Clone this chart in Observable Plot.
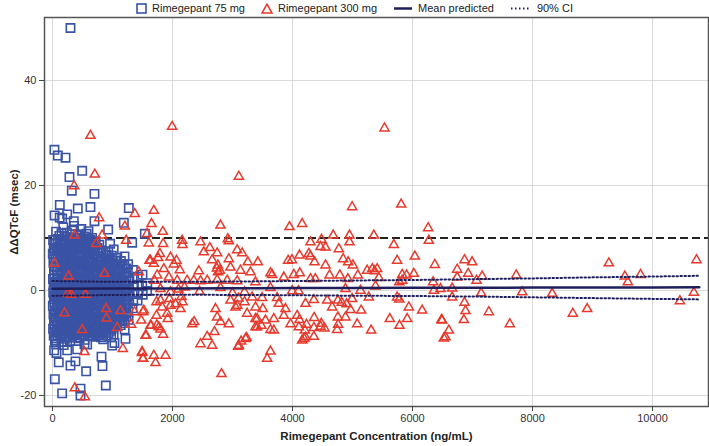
<!DOCTYPE html>
<html>
<head>
<meta charset="utf-8">
<script src="https://cdn.jsdelivr.net/npm/d3@7"></script>
<script src="https://cdn.jsdelivr.net/npm/@observablehq/plot@0.6"></script>
<style>
  html, body { margin: 0; padding: 0; background: #fff; }
  #legend { height: 16px; display: flex; justify-content: center; align-items: center;
    font-family: "Liberation Sans", Arial, sans-serif; font-size: 11px; color: #222; }
  #legend .item { display: flex; align-items: center; margin: 0 8px; }
  #legend svg { margin-right: 5px; }
</style>
</head>
<body>
<div id="legend"></div>
<div id="chart"></div>
<script>
// ---- data ----
const xTicks = [0, 2000, 4000, 6000, 8000, 10000];
const yTicks = [-20, 0, 20, 40];
const refLine = [10];

// Rimegepant 75 mg: [concentration ng/mL, ΔΔQTcF msec]
const rime75 = [
  [300,50.0],[33,26.8],[90,25.7],[217,25.3],[283,21.6],[495,22.8],[322,19.0],[700,18.4],[122,16.3],[422,15.6],
  [633,15.9],[1272,15.7],[35,14.3],[245,14.5],[161,13.7],[355,13.2],[700,13.2],[1189,12.9],[928,11.6],[1539,10.8],
  [1328,9.1],[39,-16.9],[161,-19.6],[467,-20.0],[467,-18.7],[889,-18.1],[561,-15.4],[817,-12.6],[833,-14.4],[300,-14.3],
  [383,-13.5],[105,-13.7],[28,-11.4],[67,-11.9],[245,-11.4],[411,-11.2],[578,-10.3],[245,-9.8],[995,-10.5],[1217,-9.2],
  [39,-9.5],[61,-10.2],[533,-10.2],[978,-8.9],[1033,-10.0],
  [10,9.6],[20,8.1],[5,7.0],[15,5.3],[25,3.9],[8,2.2],[18,1.0],[12,-0.4],[22,-1.7],[6,-2.9],[16,-4.6],[26,-5.8],[10,-7.3],[20,-8.6],
  [30,8.9],[32,7.5],[28,6.1],[34,4.6],[30,3.0],[36,1.6],[29,0.3],[33,-1.0],[31,-2.3],[35,-3.8],[27,-5.2],[32,-6.5],[30,-7.9],
  [60,11.2],[55,9.0],[65,7.7],[58,6.1],[62,4.4],[70,3.0],[52,1.5],[64,0.2],[57,-1.2],[68,-2.6],[60,-3.9],[54,-5.3],[66,-6.8],[61,-8.0],[59,-9.1],
  [90,9.8],[92,8.3],[88,6.8],[94,5.2],[90,3.7],[86,2.2],[93,0.9],[89,-0.5],[91,-1.9],[87,-3.2],[95,-4.5],[90,-6.0],[88,-7.4],[92,-8.7],
  [120,13.9],[115,10.4],[125,8.6],[118,6.9],[122,5.6],[128,3.7],[112,2.4],[124,0.8],[117,-0.6],[121,-2.0],[126,-3.4],[114,-4.9],[123,-6.2],[119,-7.6],[127,-8.4],
  [150,10.9],[152,9.2],[148,7.6],[154,6.0],[150,4.5],[146,2.9],[153,1.4],[149,0.0],[151,-1.5],[147,-2.8],[155,-4.2],[150,-5.7],[148,-7.1],[152,-8.6],[150,-9.8],
  [180,12.0],[176,9.7],[184,8.0],[178,6.3],[186,4.8],[174,3.3],[182,1.9],[188,0.4],[177,-1.0],[183,-2.5],[179,-3.8],[185,-5.5],[181,-6.9],[175,-8.2],[187,-10.4],
  [210,10.2],[212,8.6],[208,7.0],[214,5.5],[210,3.9],[206,2.4],[213,0.8],[209,-0.7],[211,-2.1],[207,-3.5],[215,-5.0],[210,-6.4],[208,-7.8],[212,-9.2],
  [240,11.0],[236,8.9],[244,7.4],[238,5.9],[246,4.1],[234,2.6],[242,1.2],[248,-0.3],[237,-1.6],[243,-3.1],[239,-4.5],[245,-6.0],[241,-7.5],[235,-8.9],
  [270,9.7],[272,8.0],[268,6.4],[274,4.9],[270,3.3],[266,1.7],[273,0.2],[269,-1.2],[271,-2.6],[267,-4.1],[275,-5.5],[270,-7.0],[268,-8.4],
  [300,10.1],[296,8.4],[304,6.6],[298,5.0],[306,3.6],[294,2.0],[302,0.6],[308,-0.9],[297,-2.3],[303,-3.7],[299,-5.1],[305,-6.6],[301,-7.9],[295,-9.6],
  [330,11.4],[332,9.0],[328,7.3],[334,5.7],[330,4.1],[326,2.6],[333,1.1],[329,-0.4],[331,-1.9],[327,-3.3],[335,-4.7],[330,-6.2],[328,-7.5],[332,-8.9],
  [360,12.3],[356,9.3],[364,7.8],[358,6.2],[366,4.5],[354,3.0],[362,1.4],[368,0.1],[357,-1.4],[363,-2.8],[359,-4.2],[365,-5.7],[361,-7.1],[355,-8.5],
  [390,9.9],[392,8.1],[388,6.6],[394,5.0],[390,3.4],[386,1.9],[393,0.4],[389,-1.1],[391,-2.5],[387,-3.9],[395,-5.3],[390,-6.8],[388,-8.1],
  [420,10.7],[416,8.8],[424,7.1],[418,5.4],[426,3.8],[414,2.3],[422,0.9],[428,-0.5],[417,-2.0],[423,-3.3],[419,-4.8],[425,-6.3],[421,-7.7],[415,-9.0],
  [450,10.5],[452,8.7],[448,7.2],[454,5.6],[450,4.0],[446,2.5],[453,1.0],[449,-0.6],[451,-2.0],[447,-3.4],[455,-4.9],[450,-6.3],[448,-7.7],[452,-9.1],
  [480,11.7],[476,9.5],[484,7.9],[478,6.5],[486,4.9],[474,3.4],[482,1.8],[488,0.3],[477,-1.1],[483,-2.7],[479,-4.0],[485,-5.6],[481,-7.0],[475,-8.3],
  [510,9.9],[512,8.0],[508,6.4],[514,4.8],[510,3.2],[506,1.6],[513,0.1],[509,-1.3],[511,-2.8],[507,-4.3],[515,-5.8],[510,-7.2],[508,-8.6],
  [540,10.3],[536,8.2],[544,6.8],[538,5.1],[546,3.5],[534,2.1],[542,0.7],[548,-0.8],[537,-2.2],[543,-3.6],[539,-5.2],[545,-6.5],[541,-7.8],[535,-9.4],
  [570,10.8],[572,8.9],[568,7.3],[574,5.6],[570,4.0],[566,2.4],[573,0.9],[569,-0.6],[571,-2.0],[567,-3.5],[575,-4.9],[570,-6.4],[568,-7.8],
  [600,11.3],[596,9.1],[604,7.5],[598,5.8],[606,4.2],[594,2.7],[602,1.1],[608,-0.2],[597,-1.8],[603,-3.0],[599,-4.6],[605,-6.1],[601,-7.4],[595,-8.7],
  [630,9.6],[632,7.9],[628,6.2],[634,4.6],[630,3.1],[626,1.5],[633,0.0],[629,-1.4],[631,-2.9],[627,-4.3],[635,-5.8],[630,-7.2],[628,-8.5],
  [660,10.0],[656,8.5],[664,6.7],[658,5.2],[666,3.7],[654,2.2],[662,0.5],[668,-1.0],[657,-2.4],[663,-3.9],[659,-5.4],[665,-6.8],[661,-8.1],
  [690,8.8],[692,7.0],[688,5.4],[694,3.8],[690,2.2],[686,0.7],[693,-0.8],[689,-2.2],[691,-3.7],[687,-5.1],[695,-6.6],[690,-8.0],
  [720,9.4],[716,7.6],[724,5.9],[718,4.3],[726,2.9],[714,1.3],[722,-0.1],[728,-1.5],[717,-3.0],[723,-4.4],[719,-5.9],[725,-7.3],[721,-8.8],
  [750,8.1],[752,6.5],[748,4.9],[754,3.5],[750,2.0],[746,0.5],[753,-0.9],[749,-2.4],[751,-3.9],[747,-5.3],[755,-6.8],[750,-8.2],
  [780,8.7],[776,6.4],[784,4.7],[778,3.2],[786,1.7],[774,0.3],[782,-1.2],[788,-2.6],[777,-4.1],[783,-5.6],[779,-7.0],[785,-8.5],
  [810,7.6],[812,5.9],[808,4.3],[814,2.8],[810,1.3],[806,-0.1],[813,-1.6],[809,-3.0],[811,-4.5],[807,-6.0],[815,-7.5],[810,-8.9],
  [840,7.3],[836,5.5],[844,4.0],[838,2.5],[846,1.0],[834,-0.4],[842,-1.9],[848,-3.4],[837,-4.9],[843,-6.4],[839,-7.9],[845,-9.3],
  [870,6.1],[872,4.5],[868,3.0],[874,1.5],[870,0.0],[866,-1.5],[873,-3.0],[869,-4.4],[871,-5.9],[867,-7.4],
  [900,6.8],[896,5.0],[904,3.4],[898,1.9],[906,0.4],[894,-1.1],[902,-2.6],[908,-4.0],[897,-5.5],[903,-7.1],[899,-8.6],
  [930,7.5],[932,5.6],[928,3.9],[934,2.4],[930,0.9],[926,-0.6],[933,-2.1],[929,-3.6],[931,-5.1],[927,-6.6],[935,-8.1],
  [960,8.9],[956,6.0],[964,4.4],[958,2.8],[966,1.3],[954,-0.2],[962,-1.7],[968,-3.2],[957,-4.7],[963,-6.2],[959,-7.7],
  [990,6.6],[992,5.0],[988,3.4],[994,1.8],[990,0.2],[986,-1.3],[993,-2.8],[989,-4.3],[991,-5.8],[987,-7.3],
  [1020,7.8],[1016,5.2],[1024,3.6],[1018,2.0],[1026,0.6],[1014,-0.9],[1022,-2.4],[1028,-3.9],[1017,-5.3],[1023,-6.9],[1019,-8.4],
  [1050,5.7],[1052,4.1],[1048,2.5],[1054,1.0],[1050,-0.5],[1046,-2.0],[1053,-3.5],[1049,-5.0],[1051,-6.5],
  [1080,6.2],[1076,4.6],[1084,3.0],[1078,1.5],[1086,-0.1],[1074,-1.6],[1082,-3.1],[1088,-4.6],[1077,-6.0],
  [1110,5.0],[1112,3.4],[1108,1.9],[1114,0.4],[1110,-1.1],[1106,-2.6],[1113,-4.1],[1109,-5.6],
  [1140,5.6],[1136,4.0],[1144,2.4],[1138,0.9],[1146,-0.7],[1134,-2.2],[1142,-3.7],[1148,-5.1],[1137,-6.6],
  [1170,4.6],[1172,3.0],[1168,1.3],[1174,-0.2],[1170,-1.7],[1166,-3.3],[1173,-4.8],[1169,-6.2],
  [1200,6.5],[1196,4.9],[1204,3.3],[1198,1.6],[1206,0.2],[1194,-1.3],[1202,-2.9],[1208,-4.4],[1197,-5.8],[1203,-7.4],
  [1230,4.2],[1232,2.7],[1228,1.1],[1234,-0.4],[1230,-1.9],[1226,-3.4],[1233,-4.9],
  [1260,5.0],[1256,3.5],[1264,1.8],[1258,0.4],[1266,-1.0],[1254,-2.5],[1262,-4.0],[1268,-5.6],
  [1340,3.9],[1336,2.2],[1344,0.8],[1338,-0.7],[1346,-2.0],[1334,-3.4],
  [1420,2.6],[1416,1.1],[1424,-0.6],[1418,-1.9],
  [1500,3.0],[1496,0.9],[1504,-0.8],
  [1580,1.4],[1576,-0.1]
];

// Rimegepant 300 mg: [concentration ng/mL, ΔΔQTcF msec]
const rime300 = [
  [633,29.5],[705,22.1],[361,19.9],[778,13.8],[828,10.5],[267,2.7],[867,3.2],[311,-0.8],[550,-0.8],[200,-4.3],
  [494,-7.5],[1133,-3.9],[900,-5.3],[1078,-7.1],[1172,-11.1],[533,-11.7],[372,-18.6],[539,-20.3],[367,10.5],[728,8.9],
  [1228,9.5],[1206,12.2],[33,5.1],[256,-0.6],[1439,3.5],[1617,5.7],[1700,1.9],[894,-3.5],[1311,-6.5],[1367,-4.1],
  [1478,-5.7],[1561,-8.6],[1494,-11.9],[1506,-13.0],[1522,-3.8],[1644,-6.7],[1372,14.6],[1578,10.8],
  [1689,15.2],[1650,12.7],[1839,11.2],[2800,12.4],[1606,9.0],[1844,8.9],[2161,9.5],[2167,8.7],[2467,9.2],[2922,9.8],
  [2939,9.4],[2622,8.1],[2522,7.3],[2744,7.1],[3078,7.7],[3161,7.1],[1789,7.0],[1761,6.2],[1633,5.7],[1689,5.1],
  [1967,6.3],[2067,5.7],[2022,5.0],[2661,5.8],[2939,6.0],[2756,4.8],[2740,4.2],[2790,3.8],[2760,3.5],[3256,5.4],
  [1856,4.1],[2122,3.9],[2439,3.7],[2967,4.4],[3133,3.8],[3300,3.5],[1744,2.9],[1939,2.5],[2078,1.9],[2244,1.9],
  [2356,1.9],[2467,1.8],[2578,1.9],[2744,2.0],[2911,1.9],[3078,1.8],[1800,0.3],[1967,-0.3],[2100,0.2],[2200,0.6],
  [2450,-0.2],[2800,0.5],[3000,-0.5],[3200,-0.3],[2967,-1.9],[3100,-1.5],[3200,-2.2],[1800,-1.9],[1950,-1.6],[2050,-2.6],
  [2150,-1.2],
  [1733,-2.2],[1828,-3.2],[1967,-2.9],[2133,-3.5],[2167,-2.2],[1511,-4.1],[1733,-4.8],[1911,-4.4],[1922,-5.4],[1633,-6.7],
  [1772,-7.0],[1800,-7.4],[1740,-6.6],[1550,-8.6],[1844,-8.4],[1494,-11.7],[1511,-13.0],[1689,-12.4],[1717,-13.8],[1883,-12.4],
  [2717,-3.5],[2744,-5.1],[2800,-6.0],[2939,-6.4],[3050,-3.2],[3080,-2.9],[3244,-4.4],[3383,-5.4],[3411,-7.0],[2328,-6.4],
  [2361,-6.0],[2467,-10.2],[2578,-8.8],[2661,-10.5],[2700,-7.9],[3106,-10.5],[3144,-9.7],[3233,-9.0],[2817,-15.9],
  [4994,15.9],[5811,16.4],[3950,12.1],[4161,12.7],[6261,11.9],[4678,10.5],[4950,10.5],[5356,10.5],[4300,9.2],[4483,9.7],
  [4950,9.2],[6272,9.5],[4467,8.3],[4550,8.2],[4772,7.9],[5689,8.7],[4272,7.0],[4300,6.5],[4117,6.7],[3422,5.4],
  [3928,5.7],[3990,5.8],[4367,5.4],[4550,4.8],[4844,6.0],[4928,5.4],[5006,4.8],[5744,5.7],[6039,6.5],[6372,4.9],
  [3633,3.3],[3660,3.0],[3856,2.5],[4022,3.0],[4122,3.3],[4300,2.2],[4380,2.2],[4617,2.9],[4789,2.9],[4922,2.2],
  [5089,2.9],[5244,3.8],[5330,4.1],[5411,4.1],[5370,3.7],[5439,2.4],[5828,3.0],[5900,2.9],[6022,3.2],[6344,1.6],
  [3383,1.6],[3633,0.5],[3994,-0.1],[4100,-0.1],[4883,0.3],[5133,0.0],[5383,0.8],[5780,1.6],[5828,1.9],[6356,0.0],
  [6467,0.3],[3328,-1.3],[3494,-1.4],[3744,-1.4],[3383,-3.2],[3506,-3.5],[3772,-2.5],[3883,-3.5],[3856,-4.8],[4078,-4.8],
  [4356,-1.8],[4217,-2.5],[4578,-1.9],[4661,-3.2],[4756,-1.9],[4820,-2.3],[4900,-2.6],[4994,-1.6],[4967,-3.7],[5144,-3.8],
  [5272,-1.3],[5744,-1.3],[5780,-1.7],[5939,-3.2],[6161,-3.8],[3411,-5.4],[3550,-5.7],[3383,-7.0],[3480,-6.7],[3689,-5.4],
  [3689,-7.6],[3967,-6.4],[4117,-5.6],[4106,-7.0],[4206,-7.6],[4233,-6.5],[4361,-5.2],[4356,-7.1],[4467,-6.9],[4533,-7.2],
  [4480,-6.3],[4756,-5.1],[4761,-6.5],[4744,-7.5],[4883,-5.1],[5078,-6.4],[5311,-7.6],[5622,-5.4],[5783,-6.7],[5911,-5.4],
  [6483,-5.6],[3633,-7.5],[4217,-8.9],[4356,-8.8],[6550,-8.9],
  [3633,-11.6],[3578,-13.0],[3094,-10.7],[3217,-9.2],[4161,-9.5],[4194,-9.2],[6522,-9.1],[6606,-7.6],[3106,21.7],[1994,31.2],
  [5533,30.9],
  [6867,5.8],[6994,5.4],[6744,4.0],[6928,3.2],[6744,2.5],[7161,2.7],[7067,1.9],[7728,2.9],[6661,0.4],[6661,-1.3],
  [7144,-0.5],[7828,-0.3],[8328,-0.6],[6867,-2.3],[6883,-3.9],[6856,-5.6],[7272,-4.1],[7622,-6.4],[6494,-5.7],[8672,-4.4],
  [8911,-3.5],[9272,5.2],[9539,2.7],[9589,1.6],[9800,3.0],[10456,-2.0],[10689,-0.4],[10733,5.8]
];

// Model prediction (mean and 90% CI)
const predConc = [0, 1000, 2000, 3000, 4000, 5000, 6000, 7000, 8000, 9000, 10000, 10780];
const predMean = [0.35, 0.37, 0.40, 0.42, 0.45, 0.47, 0.50, 0.52, 0.55, 0.57, 0.59, 0.61];
const predHi   = [1.8, 1.65, 1.65, 1.7, 1.8, 1.9, 2.0, 2.15, 2.3, 2.5, 2.65, 2.8];
const predLo   = [-1.0, -0.85, -0.8, -0.85, -0.9, -1.0, -1.05, -1.15, -1.3, -1.45, -1.6, -1.7];

const labels = {
  x: "Rimegepant Concentration (ng/mL)",
  y: "ΔΔQTcF (msec)",
  s75: "Rimegepant 75 mg",
  s300: "Rimegepant 300 mg",
  mean: "Mean predicted",
  ci: "90% CI"
};

// ---- styling ----
const BLUE = "#3a53a5", RED = "#e53b2e", NAVY = "#1f1f5c";

const d75 = rime75.map(([c, v]) => ({c, v}));
const d300 = rime300.map(([c, v]) => ({c, v}));
const pred = predConc.map((c, i) => ({c, m: predMean[i], hi: predHi[i], lo: predLo[i]}));

// legend
const legend = document.getElementById("legend");
const items = [
  {svg: `<svg width="11" height="11"><rect x="1" y="1" width="9" height="9" fill="none" stroke="${BLUE}" stroke-width="1.6"/></svg>`, t: labels.s75},
  {svg: `<svg width="12" height="11"><path d="M6,1.2 L11,10 L1,10 Z" fill="none" stroke="${RED}" stroke-width="1.6"/></svg>`, t: labels.s300},
  {svg: `<svg width="20" height="11"><line x1="1" x2="19" y1="5.5" y2="5.5" stroke="${NAVY}" stroke-width="2.5"/></svg>`, t: labels.mean},
  {svg: `<svg width="22" height="11"><line x1="1" x2="21" y1="5.5" y2="5.5" stroke="${NAVY}" stroke-width="2" stroke-dasharray="1.5,2.5"/></svg>`, t: labels.ci}
];
legend.innerHTML = items.map(d => `<span class="item">${d.svg}<span>${d.t}</span></span>`).join("");

const fmt = d => String(d);

const chart = Plot.plot({
  width: 709,
  height: 430,
  marginLeft: 44,
  marginRight: 1,
  marginTop: 1,
  marginBottom: 40,
  style: {fontFamily: "'Liberation Sans', Arial, sans-serif", fontSize: "11px", color: "#333", background: "#fff"},
  x: {domain: [-133, 10933]},
  y: {domain: [-22.1, 52]},
  marks: [
    Plot.gridX(xTicks, {stroke: "#d9d9d9", strokeOpacity: 1}),
    Plot.gridY(yTicks, {stroke: "#d9d9d9", strokeOpacity: 1}),
    Plot.ruleY(refLine, {stroke: "#222", strokeWidth: 2, strokeDasharray: "8,4"}),
    Plot.dot(d75, {x: "c", y: "v", symbol: "square", r: 4.7, stroke: BLUE, strokeWidth: 1.6, fill: "none"}),
    Plot.dot(d300, {x: "c", y: "v", symbol: "triangle", r: 3.4, stroke: RED, strokeWidth: 1.5, fill: "none"}),
    Plot.line(pred, {x: "c", y: "hi", stroke: NAVY, strokeWidth: 2, strokeDasharray: "1.5,2.5"}),
    Plot.line(pred, {x: "c", y: "lo", stroke: NAVY, strokeWidth: 2, strokeDasharray: "1.5,2.5"}),
    Plot.line(pred, {x: "c", y: "m", stroke: NAVY, strokeWidth: 2.5}),
    Plot.frame({stroke: "#555", strokeWidth: 1.5}),
    Plot.axisX(xTicks, {tickSize: 5, tickPadding: 3, label: null, stroke: "#444", fill: "#333", tickFormat: fmt}),
    Plot.axisY(yTicks, {tickSize: 5, tickPadding: 3, label: null, stroke: "#444", fill: "#333", tickFormat: fmt}),
    Plot.text([labels.x], {frameAnchor: "bottom", dy: 30, fontWeight: "bold", fontSize: 11.5, fill: "#222", lineAnchor: "middle", textAnchor: "middle"}),
    Plot.text([labels.y], {frameAnchor: "left", dx: -30, rotate: -90, fontWeight: "bold", fontSize: 11.5, fill: "#222", textAnchor: "middle", lineAnchor: "middle"})
  ]
});
document.getElementById("chart").appendChild(chart);
</script>
</body>
</html>
